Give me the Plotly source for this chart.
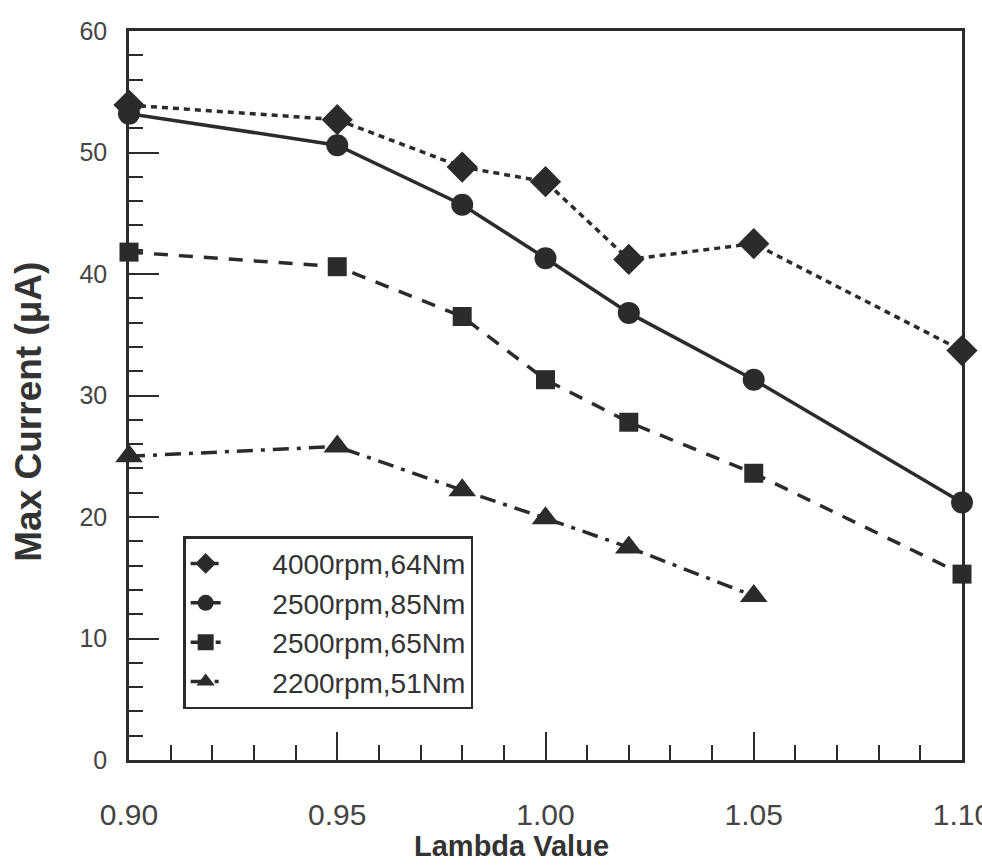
import plotly.graph_objects as go

lambda_vals = [0.90, 0.95, 0.98, 1.00, 1.02, 1.05, 1.10]
lambda_tri = [0.90, 0.95, 0.98, 1.00, 1.02, 1.05]
s_4000_64 = [53.9, 52.7, 48.8, 47.6, 41.2, 42.5, 33.7]
s_2500_85 = [53.2, 50.6, 45.7, 41.3, 36.8, 31.3, 21.2]
s_2500_65 = [41.8, 40.6, 36.5, 31.3, 27.8, 23.6, 15.3]
s_2200_51 = [25.0, 25.8, 22.2, 19.9, 17.5, 13.5]
names = ["4000rpm,64Nm", "2500rpm,85Nm", "2500rpm,65Nm", "2200rpm,51Nm"]
x_ticks = [0.90, 0.95, 1.00, 1.05, 1.10]
x_tick_text = ["0.90", "0.95", "1.00", "1.05", "1.10"]

ink = "#2b2b2b"
fig = go.Figure()
specs = [
    (lambda_vals, s_4000_64, names[0], "diamond", "6px,5px", 24),
    (lambda_vals, s_2500_85, names[1], "circle", "solid", 22),
    (lambda_vals, s_2500_65, names[2], "square", "14px,11px", 19),
    (lambda_tri, s_2200_51, names[3], "triangle-up", "16px,8px,4px,8px", 24),
]
for xs, ys, nm, sym, dash, ms in specs:
    fig.add_trace(go.Scatter(
        x=xs, y=ys, name="\u00a0" * 6 + nm, mode="lines+markers",
        line=dict(color=ink, width=3.5, dash=dash),
        marker=dict(symbol=sym, size=ms, color=ink, line=dict(width=0)),
        cliponaxis=False,
    ))

fig.update_layout(
    width=982, height=865,
    margin=dict(l=129, r=20, t=31, b=105, autoexpand=False),
    paper_bgcolor="white", plot_bgcolor="white",
    font=dict(family="Liberation Sans, Arial, sans-serif", color="#333"),
    showlegend=True,
    legend=dict(
        x=0.065, xanchor="left", y=0.307, yanchor="top",
        bordercolor=ink, borderwidth=2.5, bgcolor="white",
        font=dict(size=28, color="#333"),
        tracegroupgap=0,
    ),
    annotations=[
        dict(text="<b>Lambda Value</b>", xref="paper", yref="paper",
             x=0.4586, y=-0.118, xanchor="center", yanchor="middle",
             showarrow=False, font=dict(size=29, color="#333")),
        dict(text="<b>Max Current (μA)</b>", xref="paper", yref="paper",
             x=-0.121, y=0.478, xanchor="center", yanchor="middle", textangle=-90,
             showarrow=False, font=dict(size=37, color="#333")),
    ],
)
fig.update_xaxes(
    range=[0.90, 1.10], tickvals=x_ticks, ticktext=x_tick_text,
    showgrid=False, zeroline=False, automargin=False,
    showline=True, linecolor=ink, linewidth=2.5, mirror=True,
    ticks="inside", ticklen=28, tickwidth=2, tickcolor=ink,
    minor=dict(dtick=0.01, ticks="inside", ticklen=15, tickwidth=2, tickcolor=ink, showgrid=False),
    tickfont=dict(size=30, color="#444"), ticklabelstandoff=26,
    ticklabeloverflow="allow",
)
fig.update_yaxes(
    range=[0, 60], dtick=10,
    showgrid=False, zeroline=False, automargin=False,
    showline=True, linecolor=ink, linewidth=2.5, mirror=True,
    ticks="inside", ticklen=30, tickwidth=2, tickcolor=ink,
    minor=dict(dtick=2, ticks="inside", ticklen=14, tickwidth=2, tickcolor=ink, showgrid=False),
    tickfont=dict(size=25, color="#444"), ticklabelstandoff=14,
)

fig.write_html("out.html")
